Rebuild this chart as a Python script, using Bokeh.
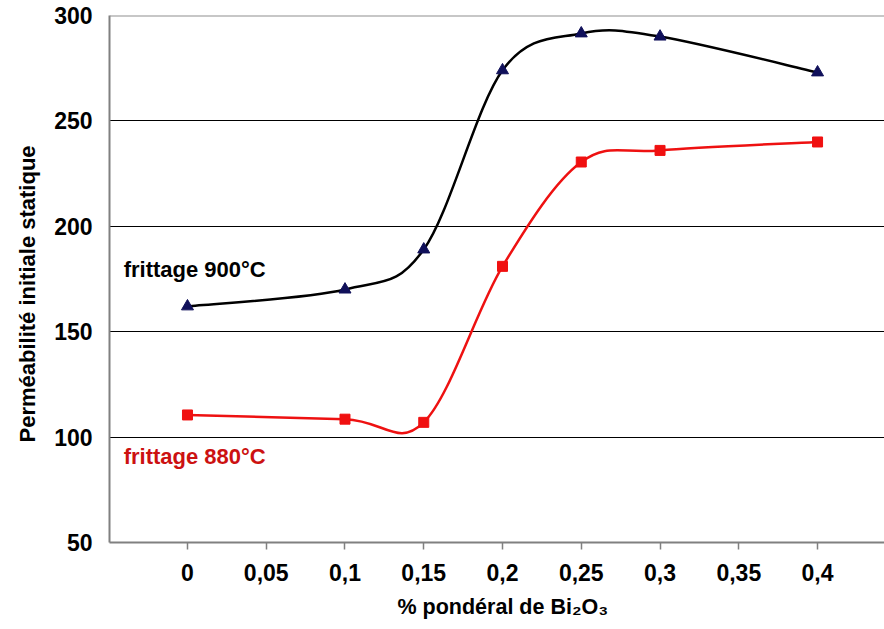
from bokeh.plotting import figure
from bokeh.models import FixedTicker, Span, Label, Range1d, Title
from bokeh.embed import file_html
from bokeh.resources import INLINE

# ---- data ----
x_bi2o3 = [0.0, 0.1, 0.15, 0.2, 0.25, 0.3, 0.4]
perm_900 = [162, 170, 189, 274, 291.5, 290, 273]
perm_880 = [110.5, 108.5, 107, 181, 230.5, 236, 240]
series_labels = ["frittage 900°C", "frittage 880°C"]
x_ticks = [0, 0.05, 0.1, 0.15, 0.2, 0.25, 0.3, 0.35, 0.4]
x_tick_labels = ["0", "0,05", "0,1", "0,15", "0,2", "0,25", "0,3", "0,35", "0,4"]
y_ticks = [50, 100, 150, 200, 250, 300]
x_title = "% pondéral de Bi₂O₃"
y_title = "Perméabilité initiale statique"

FONT = "Liberation Sans"

p = figure(width=884, height=629, output_backend="svg", toolbar_location=None,
           x_range=Range1d(-0.0495, 0.4425), y_range=Range1d(50, 300),
           min_border_left=109, min_border_right=0, min_border_top=15, min_border_bottom=87)
p.outline_line_color = None
p.background_fill_color = "white"
p.border_fill_color = "white"

# axes
p.xaxis.ticker = FixedTicker(ticks=x_ticks)
p.xaxis.major_label_overrides = {t: l for t, l in zip(x_ticks, x_tick_labels)}
p.yaxis.ticker = FixedTicker(ticks=y_ticks)
for ax in (p.xaxis, p.yaxis):
    ax.axis_line_color = "#808080"
    ax.axis_line_width = 2
    ax.major_tick_line_color = "#808080"
    ax.major_tick_line_width = 1.5
    ax.minor_tick_line_color = None
    ax.major_label_text_font = FONT
    ax.major_label_text_font_style = "bold"
    ax.major_label_text_font_size = "23px"
    ax.major_label_text_color = "black"
p.xaxis.major_tick_in = 0
p.xaxis.major_tick_out = 7
p.xaxis.major_label_standoff = 14
p.yaxis.major_tick_in = 0
p.yaxis.major_tick_out = 0
p.yaxis.major_label_standoff = 17

p.xgrid.grid_line_color = None
p.ygrid.ticker = FixedTicker(ticks=[100, 150, 200, 250])
p.ygrid.grid_line_color = "black"
p.ygrid.grid_line_width = 1
p.add_layout(Span(location=300, dimension="width", line_color="#909090", line_width=2))


def smooth(xs, ys):
    """Excel-style smoothed segments (cubic Bezier, tension 1/6)."""
    n = len(xs)
    out = dict(x0=[], y0=[], x1=[], y1=[], cx0=[], cy0=[], cx1=[], cy1=[])
    for i in range(n - 1):
        i0 = max(i - 1, 0)
        i3 = min(i + 2, n - 1)
        out["x0"].append(xs[i]); out["y0"].append(ys[i])
        out["x1"].append(xs[i + 1]); out["y1"].append(ys[i + 1])
        out["cx0"].append(xs[i] + (xs[i + 1] - xs[i0]) / 6)
        out["cy0"].append(ys[i] + (ys[i + 1] - ys[i0]) / 6)
        out["cx1"].append(xs[i + 1] - (xs[i3] - xs[i]) / 6)
        out["cy1"].append(ys[i + 1] - (ys[i3] - ys[i]) / 6)
    return out


s900 = smooth(x_bi2o3, perm_900)
p.bezier(**s900, line_color="black", line_width=2.5)
s880 = smooth(x_bi2o3, perm_880)
p.bezier(**s880, line_color="#EE1111", line_width=2.5)

p.scatter(x_bi2o3, perm_900, marker="triangle", size=12, fill_color="#10105A",
          line_color="#10105A")
p.scatter(x_bi2o3, perm_880, marker="square", size=10, fill_color="#F01010",
          line_color="#F01010")

p.add_layout(Label(x=-0.0405, y=179.5, text=series_labels[0], text_font=FONT,
                   text_font_style="bold", text_font_size="22px", text_color="black",
                   text_baseline="middle"))
p.add_layout(Label(x=-0.0405, y=90.8, text=series_labels[1], text_font=FONT,
                   text_font_style="bold", text_font_size="22px", text_color="#CC1111",
                   text_baseline="middle"))

# axis titles as side titles so they can be positioned like the reference
p.add_layout(Title(text=x_title, align="left", offset=288, text_font=FONT,
                   text_font_style="bold", text_font_size="21.5px", text_color="black",
                   standoff=18), "below")
p.add_layout(Title(text=y_title, align="left", offset=100, text_font=FONT,
                   text_font_style="bold", text_font_size="22px", text_color="black",
                   standoff=23), "left")

open("out.html", "w").write(file_html(p, INLINE))
